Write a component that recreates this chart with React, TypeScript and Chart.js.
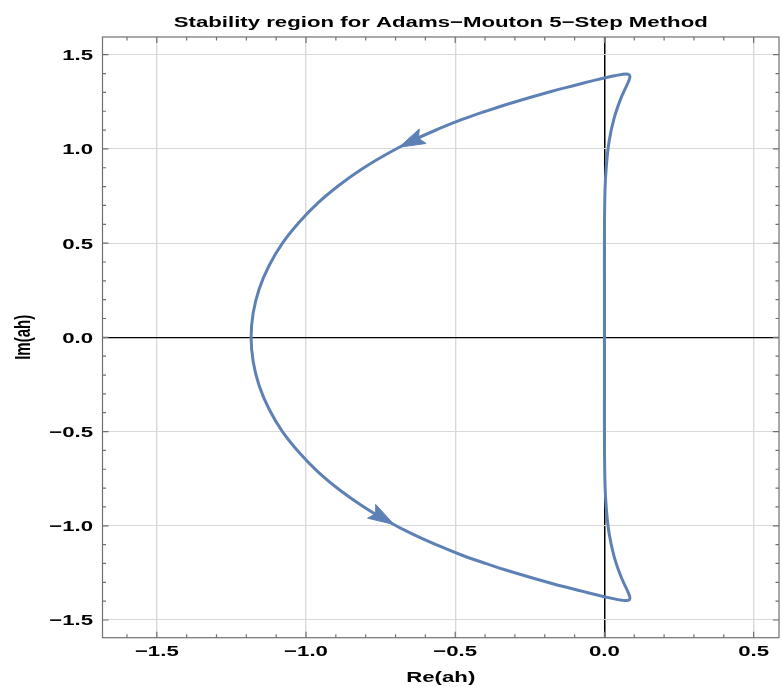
import { useEffect, useRef } from "react";
import { Chart, registerables } from "chart.js";

Chart.register(...registerables);

// Boundary locus (Re, Im), traversed in the arrows' direction
const boundaryRe = [
  0, 0.000, 0.000, 0.002, 0.0068, 0.016, 0.0323, 0.054, 0.0694, 0.081, 0.0855, 0.079, 0.058,
  0.0215, -0.031, -0.098, -0.179, -0.320, -0.398, -0.479, -0.562, -0.646, -0.729, -0.810,
  -0.887, -0.959, -1.023, -1.079, -1.124, -1.157, -1.177, -1.184,
  -1.177, -1.157, -1.124, -1.079, -1.023, -0.959, -0.887, -0.810, -0.729, -0.646, -0.562,
  -0.479, -0.398, -0.320, -0.179, -0.098, -0.031, 0.0215, 0.058, 0.079, 0.0855, 0.081, 0.0694,
  0.054, 0.0323, 0.016, 0.0068, 0.002, 0.000, 0.000, 0,
];
const boundaryIm = [
  0, 0.262, 0.524, 0.786, 0.916, 1.044, 1.162, 1.264, 1.319, 1.359, 1.385, 1.396, 1.395,
  1.384, 1.365, 1.338, 1.305, 1.240, 1.200, 1.155, 1.102, 1.042, 0.973, 0.896,
  0.810, 0.715, 0.611, 0.500, 0.380, 0.257, 0.130, 0,
  -0.130, -0.257, -0.380, -0.500, -0.611, -0.715, -0.810, -0.896, -0.973, -1.042, -1.102,
  -1.155, -1.200, -1.240, -1.305, -1.338, -1.365, -1.384, -1.395, -1.396, -1.385, -1.359, -1.319,
  -1.264, -1.162, -1.044, -0.916, -0.786, -0.524, -0.262, 0,
];

// Arrowheads: tip and a point behind it on the curve
const arrowTipRe = [-0.688, -0.705];
const arrowTipIm = [1.009, -0.993];
const arrowTailRe = [-0.611, -0.790];
const arrowTailIm = [1.066, -0.914];

const xTicks = [-1.5, -1.0, -0.5, 0.0, 0.5];
const yTicks = [-1.5, -1.0, -0.5, 0.0, 0.5, 1.0, 1.5];
const xRange = [-1.682, 0.585];
const yRange = [-1.594, 1.594];
const minorStep = 0.1;

const titleText = "Stability region for Adams\u2212Mouton 5\u2212Step Method";
const xTitleText = "Re(ah)";
const yTitleText = "Im(ah)";

const STRETCH = 1.48;
const FONT = "bold 15px 'Liberation Sans', Arial, sans-serif";
const CURVE = "#5E81B5";
const FRAME = "#707070";
const GRID = "#d9d9d9";

const fmt = (v: number) => v.toFixed(1).replace("-", "\u2212");

function stretchedText(ctx: CanvasRenderingContext2D, text: string, x: number, y: number, align: CanvasTextAlign, rotate = false) {
  ctx.save();
  ctx.translate(x, y);
  ctx.scale(STRETCH, 1);
  if (rotate) ctx.rotate(-Math.PI / 2);
  ctx.textAlign = align;
  ctx.textBaseline = "alphabetic";
  ctx.fillStyle = "#000";
  ctx.font = FONT;
  ctx.fillText(text, 0, 0);
  ctx.restore();
}

const decorPlugin = {
  id: "decor",
  afterDatasetsDraw(chart: any) {
    const ctx: CanvasRenderingContext2D = chart.ctx;
    const xs = chart.scales.x;
    const ys = chart.scales.y;
    ctx.save();
    ctx.fillStyle = CURVE;
    ctx.strokeStyle = CURVE;
    ctx.lineWidth = 1;
    ctx.lineJoin = "round";
    for (let i = 0; i < arrowTipRe.length; i++) {
      const tx = xs.getPixelForValue(arrowTipRe[i]);
      const ty = ys.getPixelForValue(arrowTipIm[i]);
      const bx = xs.getPixelForValue(arrowTailRe[i]);
      const by = ys.getPixelForValue(arrowTailIm[i]);
      const dx = tx - bx, dy = ty - by;
      const len = Math.hypot(dx, dy) || 1;
      const ux = dx / len, uy = dy / len;
      const nx = -uy, ny = ux;
      const L = 26, W = 8;
      const cx = tx - ux * L, cy = ty - uy * L;
      ctx.beginPath();
      ctx.moveTo(tx, ty);
      ctx.lineTo(cx + nx * W, cy + ny * W);
      ctx.lineTo(tx - ux * L * 0.82, ty - uy * L * 0.82);
      ctx.lineTo(cx - nx * W, cy - ny * W);
      ctx.closePath();
      ctx.fill();
      ctx.stroke();
    }
    ctx.restore();
  },
  afterDraw(chart: any) {
    const ctx: CanvasRenderingContext2D = chart.ctx;
    const { left, right, top, bottom } = chart.chartArea;
    const xs = chart.scales.x;
    const ys = chart.scales.y;
    ctx.save();
    // frame
    ctx.strokeStyle = FRAME;
    ctx.lineWidth = 1.2;
    ctx.strokeRect(left, top, right - left, bottom - top);
    // ticks
    ctx.beginPath();
    const isMajor = (v: number) => Math.abs(v * 2 - Math.round(v * 2)) < 1e-6;
    for (let k = Math.ceil(xRange[0] / minorStep); k * minorStep <= xRange[1] + 1e-9; k++) {
      const v = k * minorStep;
      const len = isMajor(v) ? 6 : 3.5;
      const px = xs.getPixelForValue(v);
      ctx.moveTo(px, bottom); ctx.lineTo(px, bottom - len);
      ctx.moveTo(px, top); ctx.lineTo(px, top + len);
    }
    for (let k = Math.ceil(yRange[0] / minorStep); k * minorStep <= yRange[1] + 1e-9; k++) {
      const v = k * minorStep;
      const len = isMajor(v) ? 6 : 3.5;
      const py = ys.getPixelForValue(v);
      ctx.moveTo(left, py); ctx.lineTo(left + len, py);
      ctx.moveTo(right, py); ctx.lineTo(right - len, py);
    }
    ctx.stroke();
    ctx.restore();

    // tick labels
    for (const v of xTicks) {
      stretchedText(ctx, fmt(v), xs.getPixelForValue(v), bottom + 18, "center");
    }
    for (const v of yTicks) {
      stretchedText(ctx, fmt(v), left - 9.5, ys.getPixelForValue(v) + 5.4, "right");
    }
    // titles
    const cx = (left + right) / 2;
    stretchedText(ctx, titleText, cx, 26.5, "center");
    stretchedText(ctx, xTitleText, cx, 682, "center");
    stretchedText(ctx, yTitleText, 30, (top + bottom) / 2, "center", true);
  },
};

export default function App() {
  const canvasRef = useRef<HTMLCanvasElement | null>(null);

  useEffect(() => {
    document.body.style.margin = "0";
    const canvas = canvasRef.current;
    if (!canvas) return;
    const data = boundaryRe.map((x, i) => ({ x, y: boundaryIm[i] }));
    const chart = new Chart(canvas, {
      type: "scatter",
      data: {
        datasets: [
          {
            data,
            showLine: true,
            borderColor: CURVE,
            backgroundColor: CURVE,
            borderWidth: 3,
            pointRadius: 0,
            pointHoverRadius: 0,
            tension: 0.4,
            borderJoinStyle: "round",
            borderCapStyle: "round",
            fill: false,
          } as any,
        ],
      },
      options: {
        animation: false,
        responsive: true,
        maintainAspectRatio: false,
        layout: { padding: { top: 37, right: 3, left: 0, bottom: 0 } },
        plugins: {
          legend: { display: false },
          title: { display: false },
          tooltip: { enabled: false },
        },
        events: [],
        scales: {
          x: {
            type: "linear",
            min: xRange[0],
            max: xRange[1],
            afterBuildTicks: (s: any) => {
              s.ticks = xTicks.map((v) => ({ value: v }));
            },
            afterFit: (s: any) => {
              s.height = 49.3;
            },
            ticks: { display: false },
            border: { display: false },
            grid: {
              drawTicks: false,
              color: (c: any) => (c.tick && c.tick.value === 0 ? "#000" : GRID),
              lineWidth: (c: any) => (c.tick && c.tick.value === 0 ? 1.5 : 1.4),
            },
          },
          y: {
            type: "linear",
            min: yRange[0],
            max: yRange[1],
            afterBuildTicks: (s: any) => {
              s.ticks = yTicks.map((v) => ({ value: v }));
            },
            afterFit: (s: any) => {
              s.width = 102.5;
            },
            ticks: { display: false },
            border: { display: false },
            grid: {
              drawTicks: false,
              color: (c: any) => (c.tick && c.tick.value === 0 ? "#000" : GRID),
              lineWidth: (c: any) => (c.tick && c.tick.value === 0 ? 1.2 : 1),
            },
          },
        },
      },
      plugins: [decorPlugin],
    });
    return () => chart.destroy();
  }, []);

  return (
    <div style={{ position: "relative", width: "782px", height: "687px" }}>
      <canvas ref={canvasRef} />
    </div>
  );
}
